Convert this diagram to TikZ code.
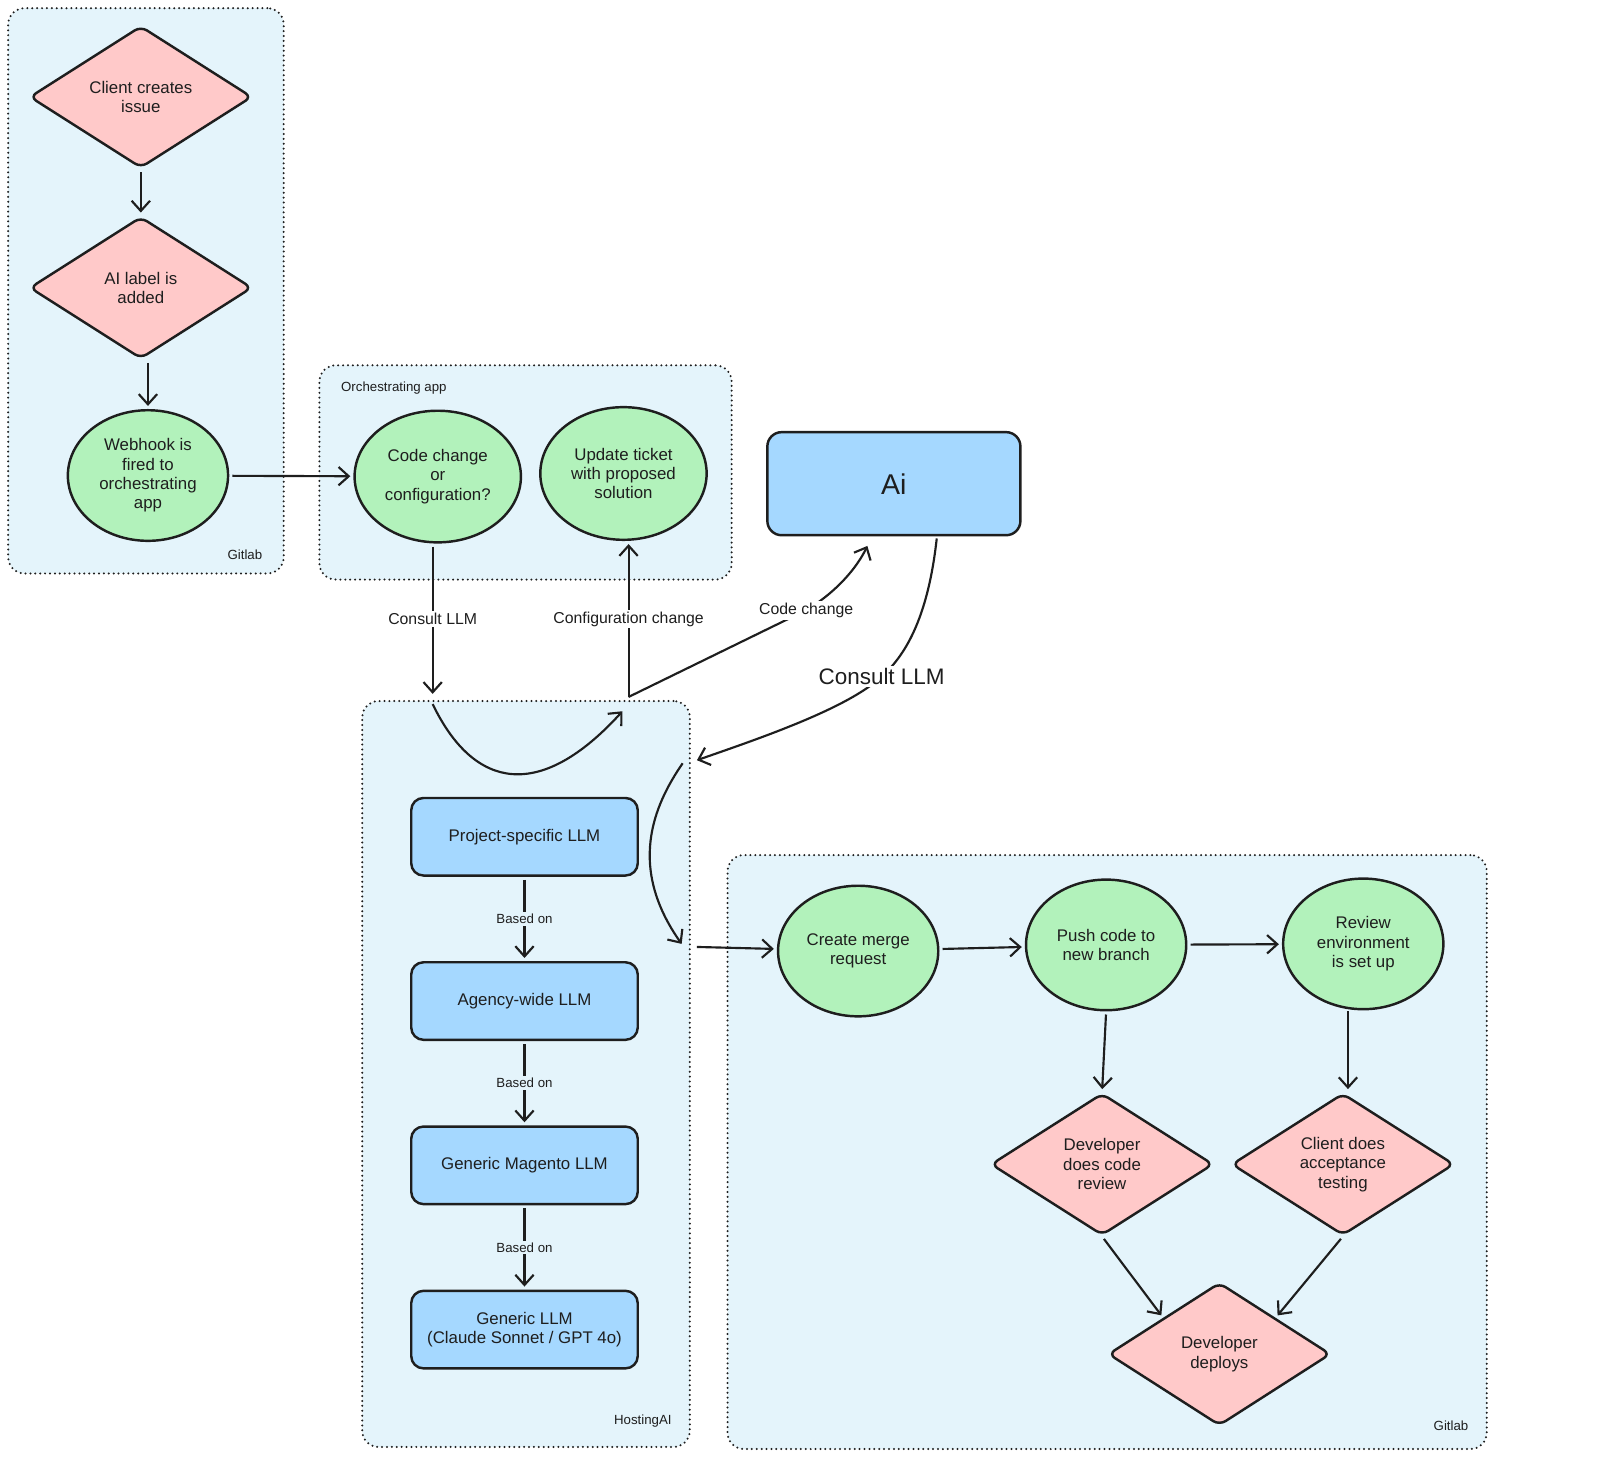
\documentclass[tikz,border=0pt]{standalone}
\usepackage{fontspec}
\setmainfont{Liberation Sans}
\usetikzlibrary{shapes.geometric,arrows.meta,calc}
\definecolor{ink}{HTML}{1E1E1E}
\definecolor{pinkfill}{HTML}{FFC9C9}
\definecolor{greenfill}{HTML}{B2F2BB}
\definecolor{bluefill}{HTML}{A5D8FF}
\definecolor{groupfill}{HTML}{E4F4FB}

\begin{document}
\begin{tikzpicture}[x=1pt,y=-1pt,
  decision/.style={diamond,aspect=1.4,draw=ink,line width=2.4pt,fill=pinkfill,rounded corners=7pt,inner sep=0pt,minimum width=218pt,minimum height=139pt,align=center,text=ink,font=\fontsize{16.5}{19}\selectfont},
  process/.style={ellipse,draw=ink,line width=2.4pt,fill=greenfill,inner sep=0pt,minimum width=157pt,minimum height=128pt,align=center,text=ink,font=\fontsize{16.5}{19}\selectfont},
  model/.style={rectangle,draw=ink,line width=2.4pt,fill=bluefill,rounded corners=12pt,minimum width=222pt,minimum height=76pt,align=center,text=ink,font=\fontsize{16.5}{19}\selectfont},
  group/.style={rectangle,draw=ink,line width=2.2pt,dash pattern=on 0pt off 4.8pt,line cap=round,fill=groupfill,rounded corners=16pt,inner sep=0pt},
  grouplabel/.style={text=ink,font=\fontsize{13}{15}\selectfont,inner sep=1pt},
  armlabel/.style={fill=white,text=ink,font=\fontsize{15.5}{17}\selectfont,inner sep=2pt},
  biglabel/.style={fill=white,text=ink,font=\fontsize{22}{26}\selectfont,inner sep=2pt},
  basedlabel/.style={fill=groupfill,text=ink,font=\fontsize{13}{15}\selectfont,inner sep=2pt},
  flow/.style={draw=ink,line width=2.1pt,-{Straight Barb[length=10pt,width=18pt]},shorten <=3pt,shorten >=3pt}
]
\fill[white] (0,0) rectangle (1568,1428);
\useasboundingbox (0,0) rectangle (1568,1428);

\node[group,minimum width=270pt,minimum height=554pt] (gitlabtop) at (143,285) {};
\node[group,minimum width=404pt,minimum height=210pt] (orch) at (515,463) {};
\node[group,minimum width=321pt,minimum height=731pt] (hosting) at (515.5,1052.5) {};
\node[group,minimum width=744pt,minimum height=582pt] (gitlabbottom) at (1085,1129) {};
\node[grouplabel] (gitlabtoplbl) at (240,544) {Gitlab};
\node[grouplabel] (orchlbl) at (386,380) {Orchestrating app};
\node[grouplabel] (hostinglbl) at (630,1393) {HostingAI};
\node[grouplabel] (gitlabbottomlbl) at (1422,1397) {Gitlab};

\node[decision] (client) at (138,95) {Client creates\\issue};
\node[decision] (label) at (138,282) {AI label is\\added};
\node[process] (webhook) at (145,466) {Webhook is\\fired to\\orchestrating\\app};
\node[process,minimum width=163pt,minimum height=129pt] (codechg) at (429,467) {Code change\\or\\configuration?};
\node[process,minimum width=163pt,minimum height=130pt] (update) at (611,464) {Update ticket\\with proposed\\solution};
\node[model,minimum width=248pt,minimum height=101pt,rounded corners=14pt,font=\fontsize{28}{32}\selectfont] (ai) at (876,474) {Ai};

\node[model] (projllm) at (514,820) {Project-specific LLM};
\node[model] (agencyllm) at (514,981) {Agency-wide LLM};
\node[model] (magentollm) at (514,1142) {Generic Magento LLM};
\node[model] (genericllm) at (514,1303) {Generic LLM\\(Claude Sonnet / GPT 4o)};

\node[process] (merge) at (841,932) {Create merge\\request};
\node[process] (push) at (1084,926) {Push code to\\new branch};
\node[process] (reviewenv) at (1336,925) {Review\\environment\\is set up};
\node[decision] (codereview) at (1080,1141) {Developer\\does code\\review};
\node[decision] (acceptance) at (1316,1141) {Client does\\acceptance\\testing};
\node[decision,minimum height=140pt] (deploys) at (1195,1327) {Developer\\deploys};

\coordinate (llmin) at (424,680);
\coordinate (llmout) at (616,683);
\coordinate (aitip) at (850,535);
\coordinate (hostin) at (683,745);
\coordinate (mergefrom) at (683,928);

\draw[flow] (client) -- (label);
\draw[flow] (webhook.north |- label.south) -- (webhook.north);
\draw[flow] (webhook) -- (codechg);
\draw[flow,shorten >=0pt] (codechg.south -| llmin) -- node[armlabel] {Consult LLM} (llmin);
\draw[flow,shorten <=0pt] (llmout) -- node[armlabel] {Configuration change} (llmout |- update.south);
\draw[flow,shorten <=0pt,shorten >=0pt] (llmout) -- (790,598) node[armlabel] {Code change} .. controls (820,580) and (840,556) .. (aitip);
\draw[flow,shorten <=0pt,shorten >=0pt] ($(ai.south)+(42,2)$) .. controls (910,600) and (890,640) .. (864,663) node[biglabel] {Consult LLM} .. controls (830,695) and (740,725) .. (hostin);
\draw[flow,shorten <=0pt,shorten >=0pt] ($(llmin)+(0,10)$) .. controls (465,775) and (530,785) .. ($(llmout)+(-6,14)$);
\draw[flow,shorten <=0pt,shorten >=0pt] ($(hostin)+(-14,3)$) .. controls (640,790) and (615,850) .. ($(mergefrom)+(-15,-3)$);
\draw[flow,shorten <=0pt] (mergefrom) -- (merge);

\draw[flow] (projllm) -- node[basedlabel] {Based on} (agencyllm);
\draw[flow] (agencyllm) -- node[basedlabel] {Based on} (magentollm);
\draw[flow] (magentollm) -- node[basedlabel] {Based on} (genericllm);

\draw[flow] (merge) -- (push);
\draw[flow] (push) -- (reviewenv);
\draw[flow] (push.south) -- (codereview.north);
\draw[flow] ($(reviewenv.south)+(-15,-2)$) -- ($(acceptance.north)+(5,0)$);
\draw[flow] (codereview.south) -- (deploys.north west);
\draw[flow] (acceptance.south) -- (deploys.north east);
\end{tikzpicture}
\end{document}
